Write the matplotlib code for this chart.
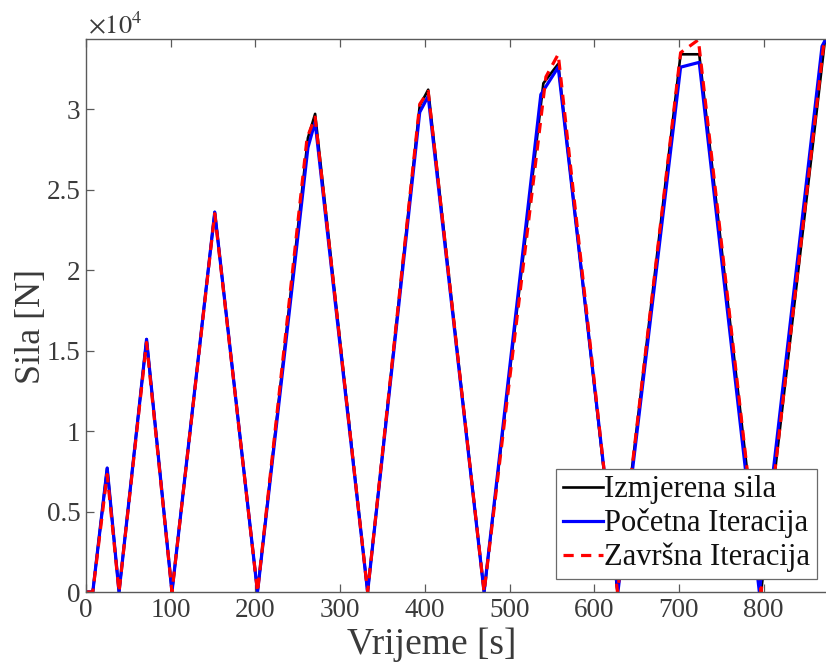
import matplotlib
matplotlib.use("Agg")
import matplotlib.pyplot as plt
from matplotlib.ticker import FuncFormatter, MultipleLocator

plt.rcParams['font.family'] = ['Liberation Serif', 'DejaVu Serif']
plt.rcParams['mathtext.fontset'] = 'stix'

# Measured force (Izmjerena sila)
t_meas = [0, 8, 25, 39, 71.5, 101.5, 152, 202.5, 262, 270.5, 332.5, 394, 404, 470,
          540, 557.5, 627.5, 702, 724, 797, 874]
f_meas = [0, 0, 7700, 0, 15700, 0, 23600, 0, 28200, 29700, 0, 30200, 31200, 0,
          31600, 32800, 0, 33400, 33400, 0, 35000]

# Initial iteration (Početna Iteracija)
t_init = [0, 8, 25, 39, 71.5, 101.5, 152, 202.5, 262, 270.5, 332.5, 394, 404, 470,
          537, 557.5, 628, 702, 724, 795, 869, 880]
f_init = [0, 0, 7700, 0, 15700, 0, 23600, 0, 27600, 29200, 0, 29800, 30800, 0,
          30900, 32600, 0, 32600, 32900, 0, 33900, 35000]

# Final iteration (Završna Iteracija)
t_fin = [0, 8, 25, 39, 71.5, 101.5, 152, 202.5, 261, 270.5, 332.5, 394, 404, 470,
         543, 557.5, 627.5, 702, 723, 797, 872]
f_fin = [0, 0, 7300, 0, 15500, 0, 23500, 0, 28200, 29500, 0, 30300, 31100, 0,
         32000, 33400, 0, 33500, 34300, 0, 34500]

x_ticks = [0, 100, 200, 300, 400, 500, 600, 700, 800]
labels = ['Izmjerena sila', 'Početna Iteracija', 'Završna Iteracija']

W, H = 826, 669
fig = plt.figure(figsize=(W / 100, H / 100), dpi=100)
left_px, right_px, top_px, bot_px = 86, 848.3, 39, 592
ax = fig.add_axes([left_px / W, (H - bot_px) / H, (right_px - left_px) / W, (bot_px - top_px) / H])

ax.plot(t_meas, f_meas, color='black', lw=1.9, label=labels[0])
ax.plot(t_init, f_init, color='#0000ff', lw=2.3, label=labels[1])
ax.plot(t_fin, f_fin, color='#ff0000', lw=2.3, dashes=(3.2, 2.3), label=labels[2])

ax.set_xlim(0, 900)
ax.set_ylim(0, 34350)
ax.set_xticks(x_ticks)
ax.yaxis.set_major_locator(MultipleLocator(5000))
ax.yaxis.set_major_formatter(FuncFormatter(lambda v, p: f"{v / 1e4:g}"))

axis_col = '#5a5a5a'
for s in ax.spines.values():
    s.set_color(axis_col)
    s.set_linewidth(1.0)
ax.tick_params(direction='in', length=6, width=0.9, color=axis_col, top=True, right=True,
               labelsize=19.5, labelcolor='#3a3a3a', pad=4)

ax.set_xlabel('Vrijeme [s]', fontsize=27, color='#3a3a3a')
ax.set_ylabel('Sila [N]', fontsize=26, color='#3a3a3a')
ax.xaxis.set_label_coords((432 - left_px) / (right_px - left_px), (bot_px - 627) / (bot_px - top_px))
ax.yaxis.set_label_coords((48 - left_px) / (right_px - left_px), (bot_px - 327) / (bot_px - top_px))

fig.text(88 / W, (H - 33) / H, r'$\times10^{4}$', fontsize=19, color='#3a3a3a',
         ha='left', va='baseline')

leg = ax.legend(loc='lower right', bbox_to_anchor=(817 / W, (H - 579) / H),
                bbox_transform=fig.transFigure, fontsize=22, frameon=True, fancybox=False,
                borderaxespad=0, borderpad=0.22, handlelength=1.3, handletextpad=0.05,
                labelspacing=0.14)
leg.get_frame().set_edgecolor('#6a6a6a')
leg.get_frame().set_linewidth(0.9)
leg.get_frame().set_alpha(1)
for txt in leg.get_texts():
    txt.set_color('#111111')

fig.savefig('out.png', dpi=100)
